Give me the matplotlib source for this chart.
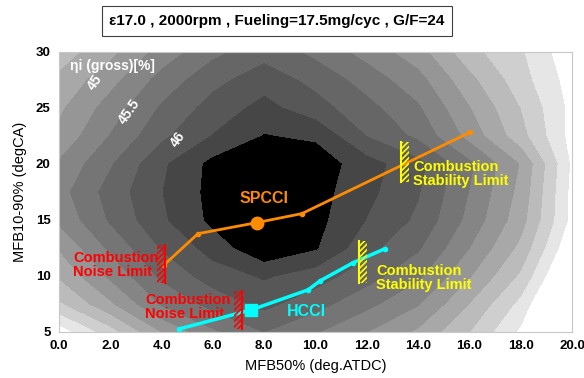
import numpy as np
import matplotlib
matplotlib.use("Agg")
import matplotlib.pyplot as plt
from matplotlib.patches import Rectangle

plt.rcParams["font.family"] = ["Liberation Sans", "DejaVu Sans"]
plt.rcParams["font.weight"] = "bold"
plt.rcParams["hatch.linewidth"] = 1.2

# ---- efficiency map (on a coarse grid) ----
MFB50 = [0, 2, 4, 6, 8, 10, 12, 14, 16, 18, 20]
MFB1090 = [5, 7.5, 10, 12.5, 15, 17.5, 20, 22.5, 25, 27.5, 30]
ETA = [
    [43.85, 44.38, 45.00, 45.45, 45.75, 45.52, 45.25, 44.95, 44.50, 43.95, 42.92],
    [44.45, 44.95, 45.52, 45.84, 46.07, 45.84, 45.57, 45.27, 44.74, 44.17, 43.24],
    [44.78, 45.30, 45.80, 46.12, 46.28, 46.12, 45.85, 45.55, 45.02, 44.45, 43.52],
    [45.02, 45.55, 46.02, 46.35, 46.70, 46.52, 46.08, 45.78, 45.25, 44.68, 43.75],
    [45.30, 45.78, 46.20, 46.56, 46.75, 46.58, 46.24, 45.95, 45.42, 44.85, 43.92],
    [45.40, 45.85, 46.24, 46.58, 46.82, 46.60, 46.32, 46.02, 45.49, 44.92, 43.92],
    [45.28, 45.72, 46.20, 46.57, 46.70, 46.65, 46.35, 46.08, 45.55, 44.98, 43.95],
    [45.06, 45.51, 45.94, 46.26, 46.51, 46.45, 45.99, 45.69, 45.16, 44.59, 43.90],
    [44.95, 45.36, 45.78, 46.10, 46.33, 46.10, 45.83, 45.53, 45.01, 44.49, 43.92],
    [44.80, 45.16, 45.59, 45.92, 46.14, 45.92, 45.64, 45.34, 44.82, 44.35, 43.88],
    [44.62, 44.92, 45.35, 45.68, 45.90, 45.68, 45.40, 45.10, 44.58, 44.28, 43.80],
]
ETA_LEVELS = [40.0, 44.0, 44.25, 44.5, 44.75, 45.0, 45.25, 45.5, 45.75, 46.0, 46.25, 46.5, 48.0]
ETA_GREYS = ["#ffffff", "#e6e6e6", "#cfcfcf", "#bbbbbb", "#a8a8a8", "#969696",
             "#858585", "#757575", "#666666", "#575757", "#464646", "#000000"]
CLABELS = ["45", "45.5", "46"]
CLABEL_X = [1.4, 2.75, 4.65]
CLABEL_Y = [27.3, 24.7, 22.2]

# ---- operating lines ----
SPCCI_X = [4.1, 5.42, 7.72, 9.47, 16.02]
SPCCI_Y = [11.0, 13.78, 14.77, 15.57, 22.83]
SPCCI_OP = 2
HCCI_X = [4.68, 7.49, 9.71, 10.18, 11.46, 12.71]
HCCI_Y = [5.27, 6.97, 8.76, 9.57, 11.18, 12.44]
HCCI_OP = 1

# ---- limits: x, y bottom, y top ----
NOISE_X = [4.13, 7.13]
NOISE_Y0 = [9.4, 5.3]
NOISE_Y1 = [12.8, 8.7]
STAB_X = [13.33, 11.7]
STAB_Y0 = [18.4, 9.4]
STAB_Y1 = [22.0, 13.15]

ORANGE = "#ff8c00"; CYAN = "#00ffff"; RED = "#ff0000"; YELLOW = "#ffff00"

fig = plt.figure(figsize=(5.84, 3.78), dpi=100)
ax = fig.add_axes([59 / 584, 1 - 332 / 378, 513 / 584, 280 / 378])

ax.contourf(MFB50, MFB1090, np.array(ETA), levels=ETA_LEVELS, colors=ETA_GREYS)
for s, x, y in zip(CLABELS, CLABEL_X, CLABEL_Y):
    ax.text(x, y, s, color="white", fontsize=10, rotation=55, ha="center", va="center")
ax.text(0.42, 28.75, "ηi (gross)[%]", color="white", fontsize=10, ha="left", va="center")

# lines
ax.plot(SPCCI_X, SPCCI_Y, color=ORANGE, lw=2, marker="o", ms=3, zorder=4)
ax.plot(SPCCI_X[SPCCI_OP], SPCCI_Y[SPCCI_OP], "o", color=ORANGE, ms=9, zorder=5)
ax.plot(HCCI_X, HCCI_Y, color=CYAN, lw=2.5, marker="o", ms=3, zorder=4)
ax.plot(HCCI_X[HCCI_OP], HCCI_Y[HCCI_OP], "s", color=CYAN, ms=8, zorder=5)

# hatched limit markers
hw = 0.3
for x, y0, y1 in zip(NOISE_X, NOISE_Y0, NOISE_Y1):
    ax.plot([x, x], [y0, y1], color=RED, lw=1.5, zorder=6)
    ax.add_patch(Rectangle((x - hw, y0), hw, y1 - y0, fill=False, hatch="//////",
                           edgecolor=RED, lw=0, zorder=6))
for x, y0, y1 in zip(STAB_X, STAB_Y0, STAB_Y1):
    ax.plot([x, x], [y0, y1], color=YELLOW, lw=1.5, zorder=6)
    ax.add_patch(Rectangle((x, y0), hw, y1 - y0, fill=False, hatch="//////",
                           edgecolor=YELLOW, lw=0, zorder=6))

ax.text(8.0, 16.9, "SPCCI", color=ORANGE, fontsize=11.5, ha="center", va="center")
ax.text(9.65, 6.8, "HCCI", color=CYAN, fontsize=11.5, ha="center", va="center")
ax.text(0.55, 11.0, "Combustion\nNoise Limit", color=RED, fontsize=10.5,
        ha="left", va="center", linespacing=1.0)
ax.text(3.35, 7.2, "Combustion\nNoise Limit", color=RED, fontsize=10.5,
        ha="left", va="center", linespacing=1.0)
ax.text(13.8, 19.1, "Combustion\nStability Limit", color=YELLOW, fontsize=10.5,
        ha="left", va="center", linespacing=1.0)
ax.text(12.36, 9.85, "Combustion\nStability Limit", color=YELLOW, fontsize=10.5,
        ha="left", va="center", linespacing=1.0)

ax.set_xlim(0, 20); ax.set_ylim(5, 30)
ax.set_xticks(np.arange(0, 21, 2))
ax.set_xticklabels([f"{v:.1f}" for v in np.arange(0, 21, 2)])
ax.set_yticks(np.arange(5, 31, 5))
ax.tick_params(length=0, labelsize=9.5, pad=6)
for s in ax.spines.values():
    s.set_color("#c8c8c8")
ax.set_xlabel("MFB50% (deg.ATDC)", fontsize=10.5, labelpad=5)
ax.set_ylabel("MFB10-90% (degCA)", fontsize=10.5, labelpad=6)

fig.text(277 / 584, 1 - 21 / 378, "ε17.0 , 2000rpm , Fueling=17.5mg/cyc , G/F=24",
         ha="center", va="center", fontsize=11,
         bbox=dict(boxstyle="square,pad=0.5", fc="white", ec="#404040", lw=0.8))

fig.savefig("out.png", dpi=100)
